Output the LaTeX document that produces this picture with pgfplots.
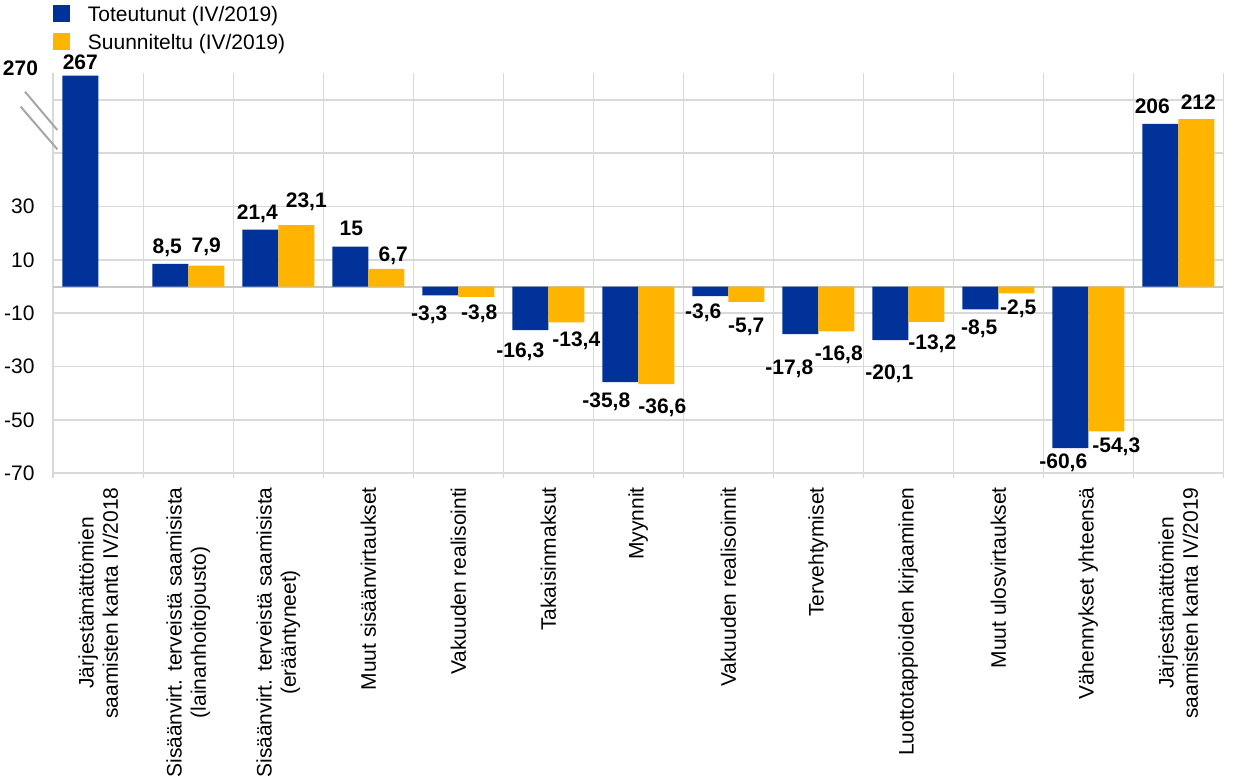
\documentclass[border=0pt]{standalone}
\usepackage{fontspec}
\setmainfont{Liberation Sans}
\usepackage{pgfplots}
\usepackage{pgfplotstable}
\pgfplotsset{compat=1.18}
\definecolor{ecbblue}{HTML}{003299}
\definecolor{ecbyellow}{HTML}{FFB400}
\definecolor{gridgray}{HTML}{D9D9D9}
\definecolor{zerogray}{HTML}{C8C8C8}
\definecolor{breakgray}{HTML}{A6A6A6}

\pgfplotstableread{
x y lab dx dy
0 79.11 267 0 2.5
1 8.5 8,5 -1.5 4.5
2 21.4 21,4 -1.5 4.35
3 15 15 0.5 4.7
4 -3.3 -3,3 -5.5 -13
5 -16.3 -16,3 -5 -14.5
6 -35.8 -35,8 -7 -13.5
7 -3.6 -3,6 -3.5 -12
8 -17.8 -17,8 -5.5 -21
9 -20.1 -20,1 -0.5 -20.5
10 -8.5 -8,5 -0.5 -13.5
11 -60.6 -60,6 -3.5 -11
12 61.04 206 -4 4.5
}\bluedata

\pgfplotstableread{
x y lab dx dy
1 7.9 7,9 0 5.8
2 23.1 23,1 5 8.3
3 6.7 6,7 3.5 2.7
4 -3.8 -3,8 1.5 -12.15
5 -13.4 -13,4 5 -13
6 -36.6 -36,6 3 -15.5
7 -5.7 -5,7 0 -16
8 -16.8 -16,8 1.25 -15.35
9 -13.2 -13,2 3 -14.5
10 -2.5 -2,5 1 -11.5
11 -54.3 -54,3 5 -11.25
12 62.81 212 1 4.3
}\yellowdata

\newcommand{\lblfont}{\fontsize{10.5}{12.1}\selectfont}

\begin{document}
\begin{tikzpicture}
\path[use as bounding box] (-26.65pt,-152.85pt) rectangle (593.35pt,236.65pt);
\begin{axis}[
  scale only axis,
  width=585pt, height=200pt,
  at={(0,0)}, anchor=south west,
  clip=false,
  xmin=-0.5, xmax=12.5,
  ymin=-70, ymax=80,
  axis line style={draw=none},
  tick pos=left,
  tick align=outside,
  major tick length=0pt,
  minor tick length=2.2pt,
  minor tick style={draw=gridgray, line width=0.8pt},
  xtick={0,...,12},
  minor xtick={-0.5,0.5,...,12.5},
  xmajorgrids=false,
  xminorgrids=true,
  ymajorgrids=true,
  grid style={draw=gridgray, line width=0.8pt},
  minor grid style={draw=gridgray, line width=0.8pt},
  ytick={-70,-50,-30,-10,10,30,50,70},
  yticklabels={-70,-50,-30,-10,10,30,,},
  extra y ticks={80},
  extra y tick labels={\textbf{270}},
  extra y tick style={grid=none, yticklabel style={yshift=2.5pt, xshift=1.7pt}},
  yticklabel style={font=\lblfont, anchor=east, inner xsep=9.15pt, inner ysep=0pt},
  xticklabels={
    {Järjestämättömien\\saamisten kanta IV/2018},
    {Sisäänvirt. terveistä saamisista\\(lainanhoitojousto)},
    {Sisäänvirt. terveistä saamisista\\(erääntyneet)},
    {Muut sisäänvirtaukset},
    {Vakuuden realisointi},
    {Takaisinmaksut},
    {Myynnit},
    {Vakuuden realisoinnit},
    {Tervehtymiset},
    {Luottotappioiden kirjaaminen},
    {Muut ulosvirtaukset},
    {Vähennykset yhteensä},
    {Järjestämättömien\\saamisten kanta IV/2019}},
  xticklabel style={font=\lblfont, rotate=90, anchor=east, align=center, inner xsep=6.85pt, inner ysep=0pt},
  legend style={at={(0,1)}, anchor=north west, yshift=34.3pt, draw=none, fill=none,
    inner sep=0pt, outer sep=0pt, row sep=4.9pt, column sep=8.8pt, font=\lblfont,
    nodes={inner sep=0pt, text height=8.3pt, text depth=0.8pt}},
  legend cell align=left,
]
\draw[zerogray, line width=1pt] (axis cs:-0.5,0) -- (axis cs:12.5,0);
\addplot[ybar, bar width=0.4, bar shift=-0.2, fill=ecbblue, draw=none,
  point meta=explicit symbolic, nodes near coords,
  visualization depends on={\thisrow{dx} \as \dx},
  visualization depends on={\thisrow{dy} \as \dy},
  every node near coord/.append style={font=\lblfont\bfseries, text=black, inner sep=0pt,
     text height=0pt, text depth=0pt, xshift=\dx pt - 9pt, yshift=\dy pt},
  legend image code/.code={\fill[ecbblue] (0pt,-4.25pt) rectangle (8.5pt,4.25pt);}]
  table[x=x, y=y, meta=lab] {\bluedata};
\addlegendentry{Toteutunut (IV/2019)}
\addplot[ybar, bar width=0.4, bar shift=0.2, fill=ecbyellow, draw=none,
  point meta=explicit symbolic, nodes near coords,
  visualization depends on={\thisrow{dx} \as \dx},
  visualization depends on={\thisrow{dy} \as \dy},
  every node near coord/.append style={font=\lblfont\bfseries, text=black, inner sep=0pt,
     text height=0pt, text depth=0pt, xshift=\dx pt + 9pt, yshift=\dy pt},
  legend image code/.code={\fill[ecbyellow] (0pt,-4.25pt) rectangle (8.5pt,4.25pt);}]
  table[x=x, y=y, meta=lab] {\yellowdata};
\addlegendentry{Suunniteltu (IV/2019)}
\end{axis}
\draw[breakgray, line width=1pt] (-14.15pt,190.8pt) -- (2pt,171.65pt);
\draw[breakgray, line width=1pt] (-16.3pt,183.3pt) -- (2pt,162pt);
\end{tikzpicture}
\end{document}
